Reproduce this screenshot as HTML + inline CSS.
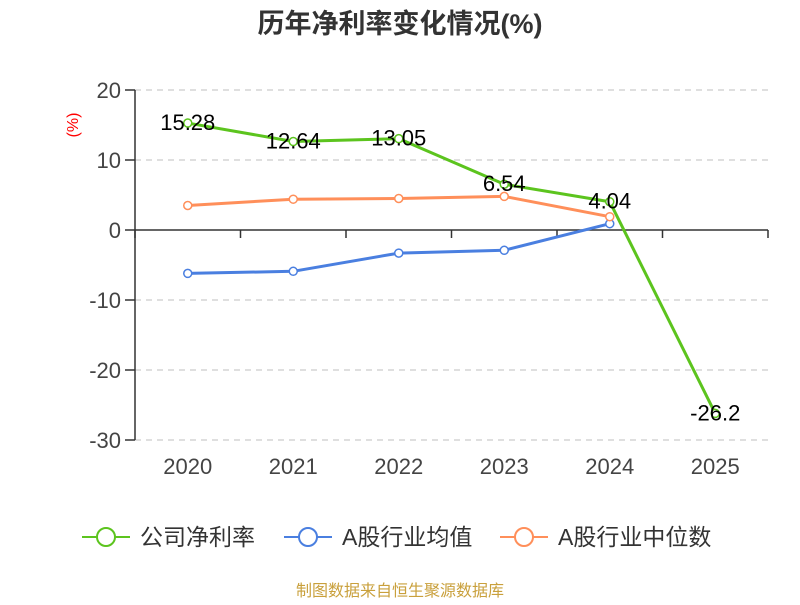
<!DOCTYPE html>
<html><head><meta charset="utf-8"><style>
body{margin:0;background:#fff;width:800px;height:600px;overflow:hidden;font-family:"Liberation Sans","Noto Sans CJK SC",sans-serif}
</style></head><body>
<svg id="c" width="800" height="600" xmlns="http://www.w3.org/2000/svg" font-family="Liberation Sans, Noto Sans CJK SC, sans-serif">
<text x="400" y="33" text-anchor="middle" font-size="27" font-weight="bold" fill="#333">历年净利率变化情况(%)</text>
<text transform="translate(78,125) rotate(-90)" text-anchor="middle" font-size="16" fill="#f00">(%)</text>
<g id="grid"></g><g id="axes"></g><g id="series"></g>
<g>
<g><line x1="82" y1="537" x2="130" y2="537" stroke="#5cc41e" stroke-width="2"/><circle cx="106" cy="537" r="9" fill="#fff" stroke="#5cc41e" stroke-width="2"/><text x="140" y="545" font-size="23" fill="#333">公司净利率</text></g>
<g><line x1="284" y1="537" x2="332" y2="537" stroke="#4a7fe0" stroke-width="2"/><circle cx="308" cy="537" r="9" fill="#fff" stroke="#4a7fe0" stroke-width="2"/><text x="342" y="545" font-size="23" fill="#333">A股行业均值</text></g>
<g><line x1="500" y1="537" x2="548" y2="537" stroke="#ff8f5a" stroke-width="2"/><circle cx="524" cy="537" r="9" fill="#fff" stroke="#ff8f5a" stroke-width="2"/><text x="558" y="545" font-size="23" fill="#333">A股行业中位数</text></g>
</g>
<text x="400" y="596" text-anchor="middle" font-size="16" fill="#c9a03c">制图数据来自恒生聚源数据库</text>
</svg>
<script>
const categories=["2020","2021","2022","2023","2024","2025"];
const companyValues=[15.28,12.64,13.05,6.54,4.04,-26.2];
const companyLabels=["15.28","12.64","13.05","6.54","4.04","-26.2"];
const avgValues=[-6.2,-5.9,-3.3,-2.9,0.9];
const medianValues=[3.5,4.4,4.5,4.8,1.9];
const yTicks=[20,10,0,-10,-20,-30];
const NS="http://www.w3.org/2000/svg";
const L=135,R=768,bw=(R-L)/categories.length;
const x=i=>L+bw*(i+0.5);
const y=v=>230-v*7;
function mk(t,a,p){const e=document.createElementNS(NS,t);for(const k in a)e.setAttribute(k,a[k]);p.appendChild(e);return e;}
const g=document.getElementById('grid'),ax=document.getElementById('axes'),s=document.getElementById('series');
yTicks.forEach(v=>{
 if(v!==0){const l=mk('line',{x1:L,x2:R,y1:y(v),y2:y(v),stroke:'#ccc','stroke-dasharray':'6,5','stroke-width':1.3},g);
 
 }
 const tk=mk('line',{x1:L-10,x2:L,y1:y(v),y2:y(v),stroke:'#333','stroke-width':1.5},ax);
 
 
 const t=mk('text',{x:L-14,y:y(v)+8,'text-anchor':'end','font-size':22,fill:'#444'},ax);t.textContent=v;
 
 
});
const ya=mk('line',{x1:L,x2:L,y1:y(20),y2:y(-30),stroke:'#333','stroke-width':1.5},ax);


const xa=mk('line',{x1:L,x2:R,y1:y(0),y2:y(0),stroke:'#333','stroke-width':1.5},ax);


for(let i=0;i<=categories.length;i++){const tk=mk('line',{x1:L+bw*i,x2:L+bw*i,y1:y(0),y2:y(0)+8,stroke:'#333','stroke-width':1.5},ax);
 
 }
categories.forEach((c,i)=>{const t=mk('text',{x:x(i),y:474,'text-anchor':'middle','font-size':22,fill:'#444'},ax);t.textContent=c;
 
 });
function series(vals,color,name,labels){
 const pl=mk('polyline',{points:vals.map((v,i)=>x(i)+','+y(v)).join(' '),fill:'none',stroke:color,'stroke-width':3,'stroke-linejoin':'round'},s);
 
 
 vals.forEach((v,i)=>{const c=mk('circle',{cx:x(i),cy:y(v),r:4,fill:'#fff',stroke:color,'stroke-width':1.5},s);
  
  });
 if(labels)vals.forEach((v,i)=>{const t=mk('text',{x:x(i),y:y(v)+7,'text-anchor':'middle','font-size':22,fill:'#000'},s);t.textContent=labels[i];
  
  });
}
series(avgValues,'#4a7fe0','industry-avg');
series(medianValues,'#ff8f5a','industry-median');
series(companyValues,'#5cc41e','company',companyLabels);
</script>
</body></html>
